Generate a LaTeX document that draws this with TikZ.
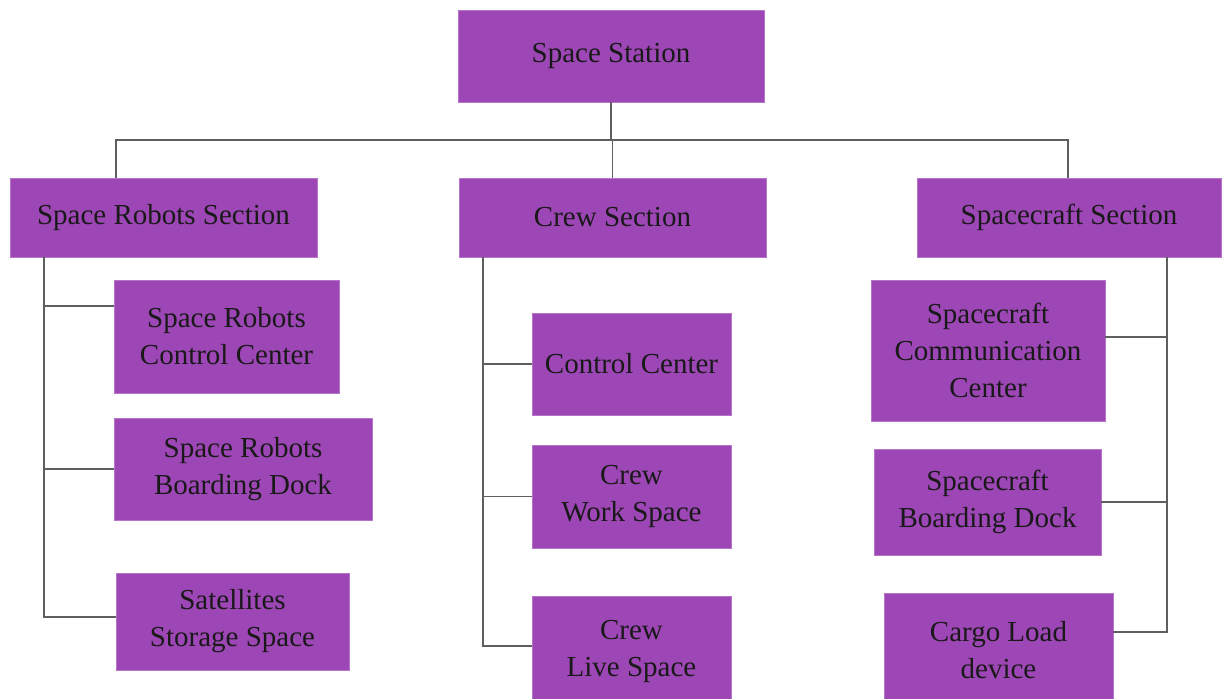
\documentclass[tikz,border=0pt]{standalone}
\usepackage{fontspec}
\setmainfont{Liberation Serif}
\usetikzlibrary{positioning}
\definecolor{boxpurple}{RGB}{157,70,181}
\definecolor{linegray}{RGB}{95,95,95}

\begin{document}
\begin{tikzpicture}[x=1pt,y=-1pt,
  box/.style={fill=boxpurple,draw=boxpurple!75!white,line width=0.6pt,align=center,
    inner sep=0pt,text=black!90,font=\fontsize{29}{37}\selectfont},
  link/.style={draw=linegray,line width=1.5pt}]
  \useasboundingbox (0,0) rectangle (1222,698);
  % top and sections
  \node[box,minimum width=306,minimum height=92] (station) at (611,56) {Space Station};
  \node[box,minimum width=307,minimum height=79] (robots) at (163.5,217.5) {Space Robots Section};
  \node[box,minimum width=307,minimum height=79] (crew) at (612.5,217.5) {Crew Section};
  \node[box,minimum width=304,minimum height=79] (craft) at (1069,217.5) {Spacecraft Section};
  % robots branch
  \node[box,minimum width=225,minimum height=113] (rcc) at (226.5,336.5) {Space Robots\\Control Center};
  \node[box,minimum width=258,minimum height=102] (rbd) at (243,469) {Space Robots\\Boarding Dock};
  \node[box,minimum width=233,minimum height=97] (sat) at (232.5,621.5) {Satellites\\Storage Space};
  % crew branch
  \node[box,minimum width=199,minimum height=102] (cc) at (631.5,364) {Control Center};
  \node[box,minimum width=199,minimum height=103] (cws) at (631.5,496.5) {Crew\\Work Space};
  \node[box,minimum width=199,minimum height=110] (cls) at (631.5,651) {Crew\\Live Space};
  % spacecraft branch
  \node[box,minimum width=234,minimum height=141] (scc) at (988,350.5) {Spacecraft\\Communication\\Center};
  \node[box,minimum width=227,minimum height=106] (sbd) at (987.5,502) {Spacecraft\\Boarding Dock};
  \node[box,minimum width=229,minimum height=114] (cld) at (998.5,650) {Cargo Load\\device};
  % bus
  \coordinate (busL) at (116,140);
  \coordinate (busR) at (1068,140);
  \draw[link] (station.south) -- (station.south |- busL);
  \draw[link] (busL |- robots.north) -- (busL) -- (busR) -- (busR |- craft.north);
  \draw[link] (crew.north) -- (crew.north |- busL);
  % trunks
  \coordinate (trunkL) at (44,617);
  \coordinate (trunkC) at (483,646);
  \coordinate (trunkR) at (1167,632);
  \draw[link] (robots.south -| trunkL) -- (trunkL) -- (sat.west |- trunkL);
  \draw[link] (trunkL |- 0,306) -- (rcc.west |- 0,306);
  \draw[link] (trunkL |- rbd.west) -- (rbd.west);
  \draw[link] (crew.south -| trunkC) -- (trunkC) -- (cls.west |- trunkC);
  \draw[link] (trunkC |- cc.west) -- (cc.west);
  \draw[link] (trunkC |- cws.west) -- (cws.west);
  \draw[link] (craft.south -| trunkR) -- (trunkR) -- (cld.east |- trunkR);
  \draw[link] (trunkR |- 0,337) -- (scc.east |- 0,337);
  \draw[link] (trunkR |- sbd.east) -- (sbd.east);
\end{tikzpicture}
\end{document}
